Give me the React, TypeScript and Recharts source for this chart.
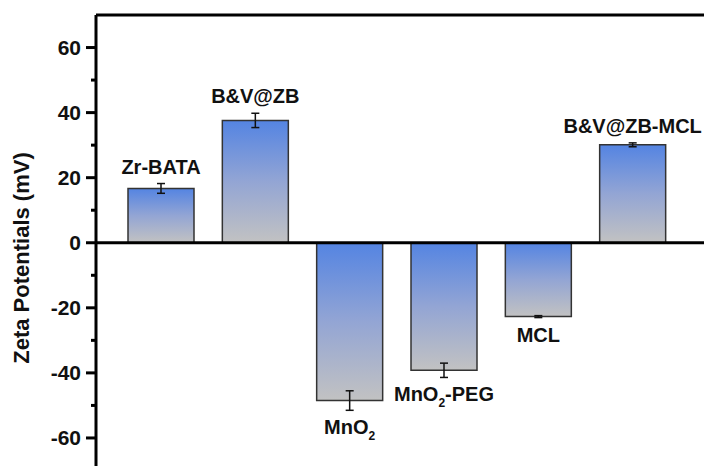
import { Bar, BarChart, ErrorBar, LabelList, ReferenceLine, XAxis, YAxis } from "recharts";

// zeta potential per sample (mV), with standard deviation
const samples = ["Zr-BATA", "B&V@ZB", "MnO2", "MnO2-PEG", "MCL", "B&V@ZB-MCL"];
const zeta = [16.7, 37.6, -48.5, -39.2, -22.7, 30.1];
const zetaErr = [1.5, 2.2, 3.0, 2.2, 0.3, 0.6];
const yTicks = [-60, -50, -40, -30, -20, -10, 0, 10, 20, 30, 40, 50, 60];

const data = samples.map((name, i) => ({ name, zeta: zeta[i], err: zetaErr[i] }));

const FONT = "'Liberation Sans', Arial, sans-serif";

// major ticks every 20 get a label, minor ticks every 10 are shorter
const YTick = (props: any) => {
    const { x, y, payload } = props;
    const major = payload.value % 20 === 0;
    return (
        <g>
            <line x1={x - (major ? 10 : 5)} x2={x} y1={y} y2={y} stroke="#000" strokeWidth={3} />
            {major && (
                <text x={x - 15} y={y} dy={7} textAnchor="end" fontFamily={FONT} fontWeight="bold" fontSize={21} fill="#111">
                    {payload.value}
                </text>
            )}
        </g>
    );
};

// sample names with "MnO2" written as a subscript formula
const SampleName = ({ name }: { name: string }) => {
    if (name.startsWith("MnO2")) {
        const rest = name.slice(4);
        return (
            <>
                <tspan>MnO</tspan>
                <tspan fontSize={12} dy={6}>2</tspan>
                {rest && <tspan dy={-6}>{rest}</tspan>}
            </>
        );
    }
    return <>{name}</>;
};

// name placed beyond the end of the error bar, above or below the bar
const BarName = (props: any) => {
    const vb = props.viewBox ?? props;
    const { index } = props;
    const x = vb.x, y = vb.y, w = vb.width, h = vb.height;
    const top = Math.min(y, y + h);
    const bottom = Math.max(y, y + h);
    const val = zeta[index];
    const pxPerUnit = Math.abs(h) / Math.abs(val);
    const errPx = zetaErr[index] * pxPerUnit;
    const cx = x + w / 2;
    const ty = val >= 0 ? top - errPx - 10 : bottom + errPx + 24;
    return (
        <text x={cx} y={ty} textAnchor="middle" fontFamily={FONT} fontSize={20} fontWeight="bold" fill="#111">
            <SampleName name={samples[index]} />
        </text>
    );
};

const YLabel = () => (
    <text
        x={29}
        y={258}
        transform="rotate(-90 29 258)"
        textAnchor="middle"
        fontFamily={FONT}
        fontWeight="bold"
        fontSize={22}
        fill="#111"
    >
        Zeta Potentials (mV)
    </text>
);

export default function App() {
    return (
        <div style={{ position: "fixed", left: 0, top: 0, width: 704, height: 466, overflow: "hidden", background: "#fff" }}>
            <BarChart width={720} height={480} data={data} margin={{ top: 15, right: 4, bottom: 9.5, left: 0 }}>
                <defs>
                    <linearGradient id="barFill" x1="0" y1="0" x2="0" y2="1">
                        <stop offset="0%" stopColor="#5484e2" />
                        <stop offset="50%" stopColor="#93a5d4" />
                        <stop offset="100%" stopColor="#c2c2c2" />
                    </linearGradient>
                </defs>
                <XAxis dataKey="name" hide padding={{ left: 18, right: 36 }} />
                <YAxis
                    width={96}
                    domain={[-70, 70]}
                    ticks={yTicks}
                    interval={0}
                    tickSize={0}
                    tickMargin={0}
                    tickLine={false}
                    tick={<YTick />}
                    axisLine={{ stroke: "#000", strokeWidth: 3 }}
                    label={<YLabel />}
                />
                <Bar dataKey="zeta" barSize={66} fill="url(#barFill)" stroke="#333" strokeWidth={1.5} isAnimationActive={false}>
                    <ErrorBar dataKey="err" width={4} stroke="#111" strokeWidth={1.5} />
                    <LabelList dataKey="zeta" content={<BarName />} />
                </Bar>
                <ReferenceLine y={0} stroke="#000" strokeWidth={3} />
                <ReferenceLine y={70} stroke="#000" strokeWidth={3} />
            </BarChart>
        </div>
    );
}
